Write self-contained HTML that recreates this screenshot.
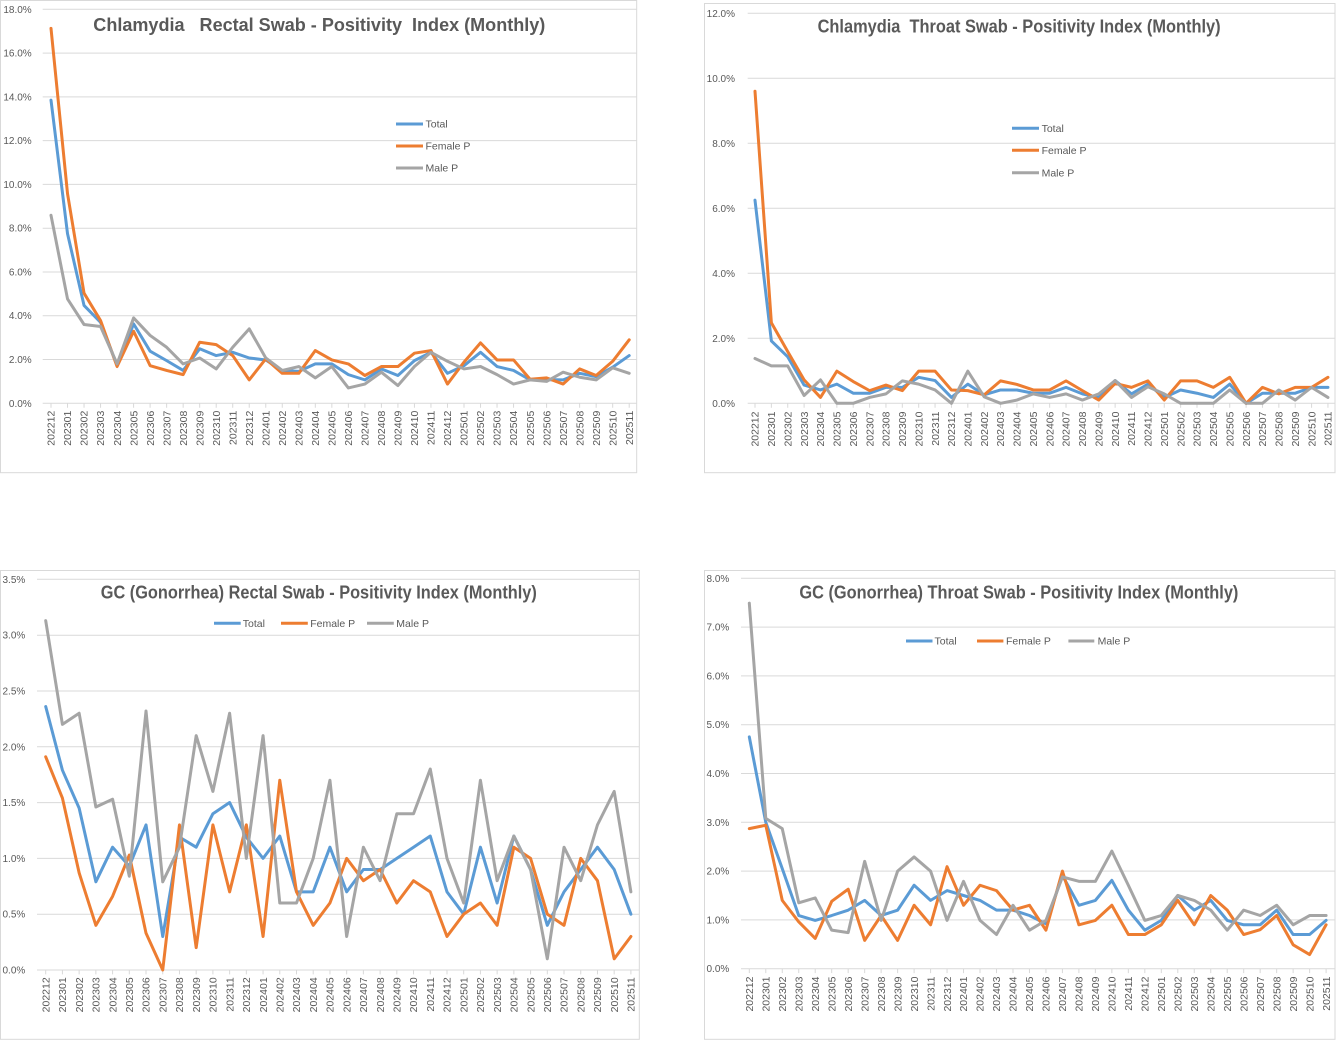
<!DOCTYPE html>
<html>
<head>
<meta charset="utf-8">
<style>
html,body{margin:0;padding:0;background:#fff;}
body{width:1336px;height:1041px;overflow:hidden;}
svg{display:block;}
.t{font-family:"Liberation Sans",sans-serif;font-size:10px;fill:#595959;}
.xl{font-family:"Liberation Sans",sans-serif;font-size:10.5px;fill:#595959;}
.lg{font-family:"Liberation Sans",sans-serif;font-size:10.5px;fill:#595959;}
.ti{font-family:"Liberation Sans",sans-serif;font-size:18.5px;font-weight:bold;fill:#595959;white-space:pre;}
.g{stroke:#d9d9d9;stroke-width:1;fill:none;}
.box{stroke:#d9d9d9;stroke-width:1;fill:#fff;}
.s{fill:none;stroke-width:3;vector-effect:non-scaling-stroke;stroke-linejoin:round;stroke-linecap:round;}
.b{stroke:#5B9BD5;}
.o{stroke:#ED7D31;}
.y{stroke:#A5A5A5;}
.lgl{stroke-width:3;}
</style>
</head>
<body>
<svg width="1336" height="1041" viewBox="0 0 1336 1041" xmlns="http://www.w3.org/2000/svg">
<rect x="0" y="0" width="1336" height="1041" fill="#fff"/>

<!-- ================= CHART 1 ================= -->
<rect class="box" x="0.5" y="0.5" width="636.2" height="472.2"/>
<g class="g">
<line x1="42.7" x2="636.7" y1="9.3" y2="9.3"/>
<line x1="42.7" x2="636.7" y1="53.1" y2="53.1"/>
<line x1="42.7" x2="636.7" y1="96.9" y2="96.9"/>
<line x1="42.7" x2="636.7" y1="140.6" y2="140.6"/>
<line x1="42.7" x2="636.7" y1="184.4" y2="184.4"/>
<line x1="42.7" x2="636.7" y1="228.2" y2="228.2"/>
<line x1="42.7" x2="636.7" y1="272.0" y2="272.0"/>
<line x1="42.7" x2="636.7" y1="315.7" y2="315.7"/>
<line x1="42.7" x2="636.7" y1="359.5" y2="359.5"/>
<line x1="42.7" x2="636.7" y1="403.3" y2="403.3"/>
<line x1="50.5" x2="630" y1="405.5" y2="405.5" stroke-width="4.4" stroke-dasharray="1 15.52"/>
</g>
<g class="t" text-anchor="end">
<text x="31.7" y="9.3" dy="0.35em">18.0%</text>
<text x="31.7" y="53.1" dy="0.35em">16.0%</text>
<text x="31.7" y="96.9" dy="0.35em">14.0%</text>
<text x="31.7" y="140.6" dy="0.35em">12.0%</text>
<text x="31.7" y="184.4" dy="0.35em">10.0%</text>
<text x="31.7" y="228.2" dy="0.35em">8.0%</text>
<text x="31.7" y="272.0" dy="0.35em">6.0%</text>
<text x="31.7" y="315.7" dy="0.35em">4.0%</text>
<text x="31.7" y="359.5" dy="0.35em">2.0%</text>
<text x="31.7" y="403.3" dy="0.35em">0.0%</text>
</g>
<g class="xl" text-anchor="end" transform="translate(54.7 410.7) rotate(-90)">
<text y="0">202212</text><text y="16.52">202301</text><text y="33.04">202302</text><text y="49.56">202303</text><text y="66.08">202304</text><text y="82.6">202305</text><text y="99.12">202306</text><text y="115.64">202307</text><text y="132.16">202308</text><text y="148.68">202309</text><text y="165.2">202310</text><text y="181.72">202311</text><text y="198.24">202312</text><text y="214.76">202401</text><text y="231.28">202402</text><text y="247.8">202403</text><text y="264.32">202404</text><text y="280.84">202405</text><text y="297.36">202406</text><text y="313.88">202407</text><text y="330.4">202408</text><text y="346.92">202409</text><text y="363.44">202410</text><text y="379.96">202411</text><text y="396.48">202412</text><text y="413">202501</text><text y="429.52">202502</text><text y="446.04">202503</text><text y="462.56">202504</text><text y="479.08">202505</text><text y="495.6">202506</text><text y="512.12">202507</text><text y="528.64">202508</text><text y="545.16">202509</text><text y="561.68">202510</text><text y="578.2">202511</text>
</g>
<g transform="translate(51 403.3) scale(16.52 -21.889)">
<polyline class="s b" points="0,13.85 1,7.75 2,4.47 3,3.7 4,1.72 5,3.63 6,2.38 7,1.95 8,1.5 9,2.49 10,2.18 11,2.33 12,2.07 13,1.98 14,1.5 15,1.46 16,1.8 17,1.8 18,1.31 19,1.07 20,1.57 21,1.27 22,1.95 23,2.33 24,1.37 25,1.72 26,2.33 27,1.68 28,1.5 29,1.07 30,1.08 31,1.07 32,1.37 33,1.22 34,1.65 35,2.18"/>
<polyline class="s o" points="0,17.13 1,9.58 2,5.03 3,3.78 4,1.68 5,3.29 6,1.72 7,1.5 8,1.31 9,2.79 10,2.68 11,2.18 12,1.07 13,2.03 14,1.37 15,1.37 16,2.41 17,1.98 18,1.8 19,1.27 20,1.68 21,1.68 22,2.29 23,2.41 24,0.88 25,1.88 26,2.76 27,1.98 28,1.98 29,1.1 30,1.16 31,0.88 32,1.57 33,1.27 34,1.92 35,2.9"/>
<polyline class="s y" points="0,8.59 1,4.77 2,3.6 3,3.51 4,1.8 5,3.9 6,3.1 7,2.56 8,1.8 9,2.07 10,1.57 11,2.56 12,3.4 13,2.07 14,1.5 15,1.68 16,1.16 17,1.68 18,0.7 19,0.88 20,1.42 21,0.81 22,1.68 23,2.33 24,1.92 25,1.57 26,1.68 27,1.31 28,0.88 29,1.07 30,1.0 31,1.42 32,1.19 33,1.07 34,1.62 35,1.37"/>
</g>
<text class="ti" x="93.3" y="31" textLength="452" lengthAdjust="spacingAndGlyphs">Chlamydia   Rectal Swab - Positivity  Index (Monthly)</text>
<line class="lgl b" x1="396" x2="423" y1="124" y2="124"/>
<line class="lgl o" x1="396" x2="423" y1="146" y2="146"/>
<line class="lgl y" x1="396" x2="423" y1="168" y2="168"/>
<text class="lg" x="425.5" y="124" dy="0.35em">Total</text>
<text class="lg" x="425.5" y="146" dy="0.35em">Female P</text>
<text class="lg" x="425.5" y="168" dy="0.35em">Male P</text>

<!-- ================= CHART 2 ================= -->
<rect class="box" x="704.5" y="3.5" width="630.5" height="469.2"/>
<g class="g">
<line x1="747.7" x2="1335" y1="13.3" y2="13.3"/>
<line x1="747.7" x2="1335" y1="78.3" y2="78.3"/>
<line x1="747.7" x2="1335" y1="143.3" y2="143.3"/>
<line x1="747.7" x2="1335" y1="208.3" y2="208.3"/>
<line x1="747.7" x2="1335" y1="273.3" y2="273.3"/>
<line x1="747.7" x2="1335" y1="338.3" y2="338.3"/>
<line x1="747.7" x2="1335" y1="403.3" y2="403.3"/>
<line x1="754.5" x2="1329" y1="405.5" y2="405.5" stroke-width="4.4" stroke-dasharray="1 15.37"/>
</g>
<g class="t" text-anchor="end">
<text x="735" y="13.3" dy="0.35em">12.0%</text>
<text x="735" y="78.3" dy="0.35em">10.0%</text>
<text x="735" y="143.3" dy="0.35em">8.0%</text>
<text x="735" y="208.3" dy="0.35em">6.0%</text>
<text x="735" y="273.3" dy="0.35em">4.0%</text>
<text x="735" y="338.3" dy="0.35em">2.0%</text>
<text x="735" y="403.3" dy="0.35em">0.0%</text>
</g>
<g class="xl" text-anchor="end" transform="translate(758.7 411.5) rotate(-90)">
<text y="0">202212</text><text y="16.37">202301</text><text y="32.74">202302</text><text y="49.11">202303</text><text y="65.48">202304</text><text y="81.85">202305</text><text y="98.22">202306</text><text y="114.59">202307</text><text y="130.96">202308</text><text y="147.33">202309</text><text y="163.7">202310</text><text y="180.07">202311</text><text y="196.44">202312</text><text y="212.81">202401</text><text y="229.18">202402</text><text y="245.55">202403</text><text y="261.92">202404</text><text y="278.29">202405</text><text y="294.66">202406</text><text y="311.03">202407</text><text y="327.4">202408</text><text y="343.77">202409</text><text y="360.14">202410</text><text y="376.51">202411</text><text y="392.88">202412</text><text y="409.25">202501</text><text y="425.62">202502</text><text y="441.99">202503</text><text y="458.36">202504</text><text y="474.73">202505</text><text y="491.1">202506</text><text y="507.47">202507</text><text y="523.84">202508</text><text y="540.21">202509</text><text y="556.58">202510</text><text y="572.95">202511</text>
</g>
<g transform="translate(755 403.3) scale(16.37 -32.5)">
<polyline class="s b" points="0,6.25 1,1.92 2,1.43 3,0.56 4,0.41 5,0.59 6,0.31 7,0.31 8,0.49 9,0.49 10,0.8 11,0.7 12,0.18 13,0.59 14,0.26 15,0.41 16,0.41 17,0.31 18,0.31 19,0.49 20,0.29 21,0.18 22,0.7 23,0.29 24,0.59 25,0.18 26,0.41 27,0.31 28,0.18 29,0.59 30,0 31,0.31 32,0.31 33,0.31 34,0.49 35,0.49"/>
<polyline class="s o" points="0,9.6 1,2.48 2,1.59 3,0.72 4,0.18 5,0.99 6,0.67 7,0.39 8,0.56 9,0.39 10,0.99 11,0.99 12,0.41 13,0.39 14,0.26 15,0.69 16,0.58 17,0.41 18,0.41 19,0.69 20,0.39 21,0.1 22,0.61 23,0.49 24,0.69 25,0.1 26,0.69 27,0.69 28,0.49 29,0.8 30,0 31,0.49 32,0.29 33,0.49 34,0.49 35,0.8"/>
<polyline class="s y" points="0,1.38 1,1.15 2,1.15 3,0.24 4,0.72 5,0 6,0 7,0.18 8,0.29 9,0.69 10,0.59 11,0.41 12,0 13,0.99 14,0.2 15,0 16,0.1 17,0.29 18,0.18 19,0.29 20,0.1 21,0.29 22,0.7 23,0.18 24,0.51 25,0.29 26,0 27,0 28,0 29,0.41 30,0 31,0 32,0.41 33,0.1 34,0.49 35,0.18"/>
</g>
<text class="ti" x="817.6" y="32.5" textLength="403" lengthAdjust="spacingAndGlyphs">Chlamydia  Throat Swab - Positivity Index (Monthly)</text>
<line class="lgl b" x1="1012" x2="1039" y1="128.3" y2="128.3"/>
<line class="lgl o" x1="1012" x2="1039" y1="150.3" y2="150.3"/>
<line class="lgl y" x1="1012" x2="1039" y1="172.7" y2="172.7"/>
<text class="lg" x="1041.6" y="128.3" dy="0.35em">Total</text>
<text class="lg" x="1041.6" y="150.3" dy="0.35em">Female P</text>
<text class="lg" x="1041.6" y="172.7" dy="0.35em">Male P</text>

<!-- ================= CHART 3 ================= -->
<rect class="box" x="0.5" y="570.5" width="638.8" height="468.8"/>
<g class="g">
<line x1="37" x2="639" y1="579.3" y2="579.3"/>
<line x1="37" x2="639" y1="635.2" y2="635.2"/>
<line x1="37" x2="639" y1="691.0" y2="691.0"/>
<line x1="37" x2="639" y1="746.8" y2="746.8"/>
<line x1="37" x2="639" y1="802.6" y2="802.6"/>
<line x1="37" x2="639" y1="858.4" y2="858.4"/>
<line x1="37" x2="639" y1="914.2" y2="914.2"/>
<line x1="37" x2="639" y1="970" y2="970"/>
<line x1="45.2" x2="632" y1="972.2" y2="972.2" stroke-width="4.4" stroke-dasharray="1 15.72"/>
</g>
<g class="t" text-anchor="end">
<text x="25.3" y="579.3" dy="0.35em">3.5%</text>
<text x="25.3" y="635.2" dy="0.35em">3.0%</text>
<text x="25.3" y="691.0" dy="0.35em">2.5%</text>
<text x="25.3" y="746.8" dy="0.35em">2.0%</text>
<text x="25.3" y="802.6" dy="0.35em">1.5%</text>
<text x="25.3" y="858.4" dy="0.35em">1.0%</text>
<text x="25.3" y="914.2" dy="0.35em">0.5%</text>
<text x="25.3" y="970" dy="0.35em">0.0%</text>
</g>
<g class="xl" text-anchor="end" transform="translate(49.4 977.3) rotate(-90)">
<text y="0">202212</text><text y="16.72">202301</text><text y="33.44">202302</text><text y="50.16">202303</text><text y="66.88">202304</text><text y="83.6">202305</text><text y="100.32">202306</text><text y="117.04">202307</text><text y="133.76">202308</text><text y="150.48">202309</text><text y="167.2">202310</text><text y="183.92">202311</text><text y="200.64">202312</text><text y="217.36">202401</text><text y="234.08">202402</text><text y="250.8">202403</text><text y="267.52">202404</text><text y="284.24">202405</text><text y="300.96">202406</text><text y="317.68">202407</text><text y="334.4">202408</text><text y="351.12">202409</text><text y="367.84">202410</text><text y="384.56">202411</text><text y="401.28">202412</text><text y="418">202501</text><text y="434.72">202502</text><text y="451.44">202503</text><text y="468.16">202504</text><text y="484.88">202505</text><text y="501.6">202506</text><text y="518.32">202507</text><text y="535.04">202508</text><text y="551.76">202509</text><text y="568.48">202510</text><text y="585.2">202511</text>
</g>
<g transform="translate(45.7 970) scale(16.72 -111.63)">
<polyline class="s b" points="0,2.36 1,1.79 2,1.45 3,0.79 4,1.1 5,0.93 6,1.3 7,0.3 8,1.19 9,1.1 10,1.4 11,1.5 12,1.19 13,1.0 14,1.2 15,0.7 16,0.7 17,1.1 18,0.7 19,0.9 20,0.9 21,1.0 22,1.1 23,1.2 24,0.7 25,0.5 26,1.1 27,0.6 28,1.2 29,0.9 30,0.4 31,0.7 32,0.9 33,1.1 34,0.9 35,0.5"/>
<polyline class="s o" points="0,1.91 1,1.54 2,0.87 3,0.4 4,0.66 5,1.03 6,0.33 7,0 8,1.3 9,0.2 10,1.3 11,0.7 12,1.3 13,0.3 14,1.7 15,0.7 16,0.4 17,0.6 18,1.0 19,0.8 20,0.9 21,0.6 22,0.8 23,0.7 24,0.3 25,0.5 26,0.6 27,0.4 28,1.1 29,1.0 30,0.5 31,0.4 32,1.0 33,0.8 34,0.1 35,0.3"/>
<polyline class="s y" points="0,3.13 1,2.2 2,2.3 3,1.46 4,1.53 5,0.84 6,2.32 7,0.79 8,1.1 9,2.1 10,1.6 11,2.3 12,1.0 13,2.1 14,0.6 15,0.6 16,1.0 17,1.7 18,0.3 19,1.1 20,0.8 21,1.4 22,1.4 23,1.8 24,1.0 25,0.6 26,1.7 27,0.8 28,1.2 29,0.9 30,0.1 31,1.1 32,0.8 33,1.3 34,1.6 35,0.7"/>
</g>
<text class="ti" x="100.8" y="598.5" textLength="436" lengthAdjust="spacingAndGlyphs">GC (Gonorrhea) Rectal Swab - Positivity Index (Monthly)</text>
<line class="lgl b" x1="214" x2="240.7" y1="623.3" y2="623.3"/>
<text class="lg" x="242.8" y="623.3" dy="0.35em">Total</text>
<line class="lgl o" x1="281" x2="307.8" y1="623.3" y2="623.3"/>
<text class="lg" x="310.2" y="623.3" dy="0.35em">Female P</text>
<line class="lgl y" x1="367" x2="393.8" y1="623.3" y2="623.3"/>
<text class="lg" x="396.3" y="623.3" dy="0.35em">Male P</text>

<!-- ================= CHART 4 ================= -->
<rect class="box" x="704.5" y="570.5" width="630.5" height="468.8"/>
<g class="g">
<line x1="741" x2="1335" y1="578.3" y2="578.3"/>
<line x1="741" x2="1335" y1="627.1" y2="627.1"/>
<line x1="741" x2="1335" y1="675.9" y2="675.9"/>
<line x1="741" x2="1335" y1="724.7" y2="724.7"/>
<line x1="741" x2="1335" y1="773.5" y2="773.5"/>
<line x1="741" x2="1335" y1="822.3" y2="822.3"/>
<line x1="741" x2="1335" y1="871.1" y2="871.1"/>
<line x1="741" x2="1335" y1="919.9" y2="919.9"/>
<line x1="741" x2="1335" y1="968.7" y2="968.7"/>
<line x1="748.8" x2="1327" y1="970.9" y2="970.9" stroke-width="4.4" stroke-dasharray="1 15.48"/>
</g>
<g class="t" text-anchor="end">
<text x="729.3" y="578.3" dy="0.35em">8.0%</text>
<text x="729.3" y="627.1" dy="0.35em">7.0%</text>
<text x="729.3" y="675.9" dy="0.35em">6.0%</text>
<text x="729.3" y="724.7" dy="0.35em">5.0%</text>
<text x="729.3" y="773.5" dy="0.35em">4.0%</text>
<text x="729.3" y="822.3" dy="0.35em">3.0%</text>
<text x="729.3" y="871.1" dy="0.35em">2.0%</text>
<text x="729.3" y="919.9" dy="0.35em">1.0%</text>
<text x="729.3" y="968.7" dy="0.35em">0.0%</text>
</g>
<g class="xl" text-anchor="end" transform="translate(753 976.5) rotate(-90)">
<text y="0">202212</text><text y="16.48">202301</text><text y="32.96">202302</text><text y="49.44">202303</text><text y="65.92">202304</text><text y="82.4">202305</text><text y="98.88">202306</text><text y="115.36">202307</text><text y="131.84">202308</text><text y="148.32">202309</text><text y="164.8">202310</text><text y="181.28">202311</text><text y="197.76">202312</text><text y="214.24">202401</text><text y="230.72">202402</text><text y="247.2">202403</text><text y="263.68">202404</text><text y="280.16">202405</text><text y="296.64">202406</text><text y="313.12">202407</text><text y="329.6">202408</text><text y="346.08">202409</text><text y="362.56">202410</text><text y="379.04">202411</text><text y="395.52">202412</text><text y="412">202501</text><text y="428.48">202502</text><text y="444.96">202503</text><text y="461.44">202504</text><text y="477.92">202505</text><text y="494.4">202506</text><text y="510.88">202507</text><text y="527.36">202508</text><text y="543.84">202509</text><text y="560.32">202510</text><text y="576.8">202511</text>
</g>
<g transform="translate(749.3 968.7) scale(16.48 -48.8)">
<polyline class="s b" points="0,4.75 1,3.0 2,2.05 3,1.09 4,0.99 5,1.09 6,1.2 7,1.4 8,1.09 9,1.2 10,1.71 11,1.4 12,1.6 13,1.5 14,1.4 15,1.2 16,1.2 17,1.09 18,0.92 19,1.91 20,1.3 21,1.4 22,1.81 23,1.2 24,0.79 25,0.99 26,1.5 27,1.2 28,1.4 29,0.99 30,0.9 31,0.9 32,1.2 33,0.7 34,0.7 35,0.99"/>
<polyline class="s o" points="0,2.87 1,2.94 2,1.4 3,0.96 4,0.62 5,1.38 6,1.63 7,0.58 8,1.09 9,0.58 10,1.3 11,0.9 12,2.09 13,1.3 14,1.71 15,1.6 16,1.2 17,1.3 18,0.79 19,2.0 20,0.9 21,0.99 22,1.3 23,0.7 24,0.7 25,0.9 26,1.4 27,0.9 28,1.5 29,1.2 30,0.7 31,0.8 32,1.09 33,0.49 34,0.29 35,0.9"/>
<polyline class="s y" points="0,7.49 1,3.08 2,2.87 3,1.35 4,1.45 5,0.79 6,0.74 7,2.2 8,0.99 9,2.0 10,2.29 11,2.0 12,0.99 13,1.79 14,0.99 15,0.7 16,1.3 17,0.79 18,0.99 19,1.88 20,1.79 21,1.79 22,2.41 23,1.71 24,0.99 25,1.09 26,1.5 27,1.4 28,1.2 29,0.79 30,1.2 31,1.09 32,1.3 33,0.9 34,1.09 35,1.09"/>
</g>
<text class="ti" x="799.4" y="598.5" textLength="439" lengthAdjust="spacingAndGlyphs">GC (Gonorrhea) Throat Swab - Positivity Index (Monthly)</text>
<line class="lgl b" x1="906" x2="932.5" y1="641" y2="641"/>
<text class="lg" x="934.5" y="641" dy="0.35em">Total</text>
<line class="lgl o" x1="977" x2="1003.4" y1="641" y2="641"/>
<text class="lg" x="1006" y="641" dy="0.35em">Female P</text>
<line class="lgl y" x1="1068.4" x2="1094.3" y1="641" y2="641"/>
<text class="lg" x="1097.6" y="641" dy="0.35em">Male P</text>
</svg>
</body>
</html>
